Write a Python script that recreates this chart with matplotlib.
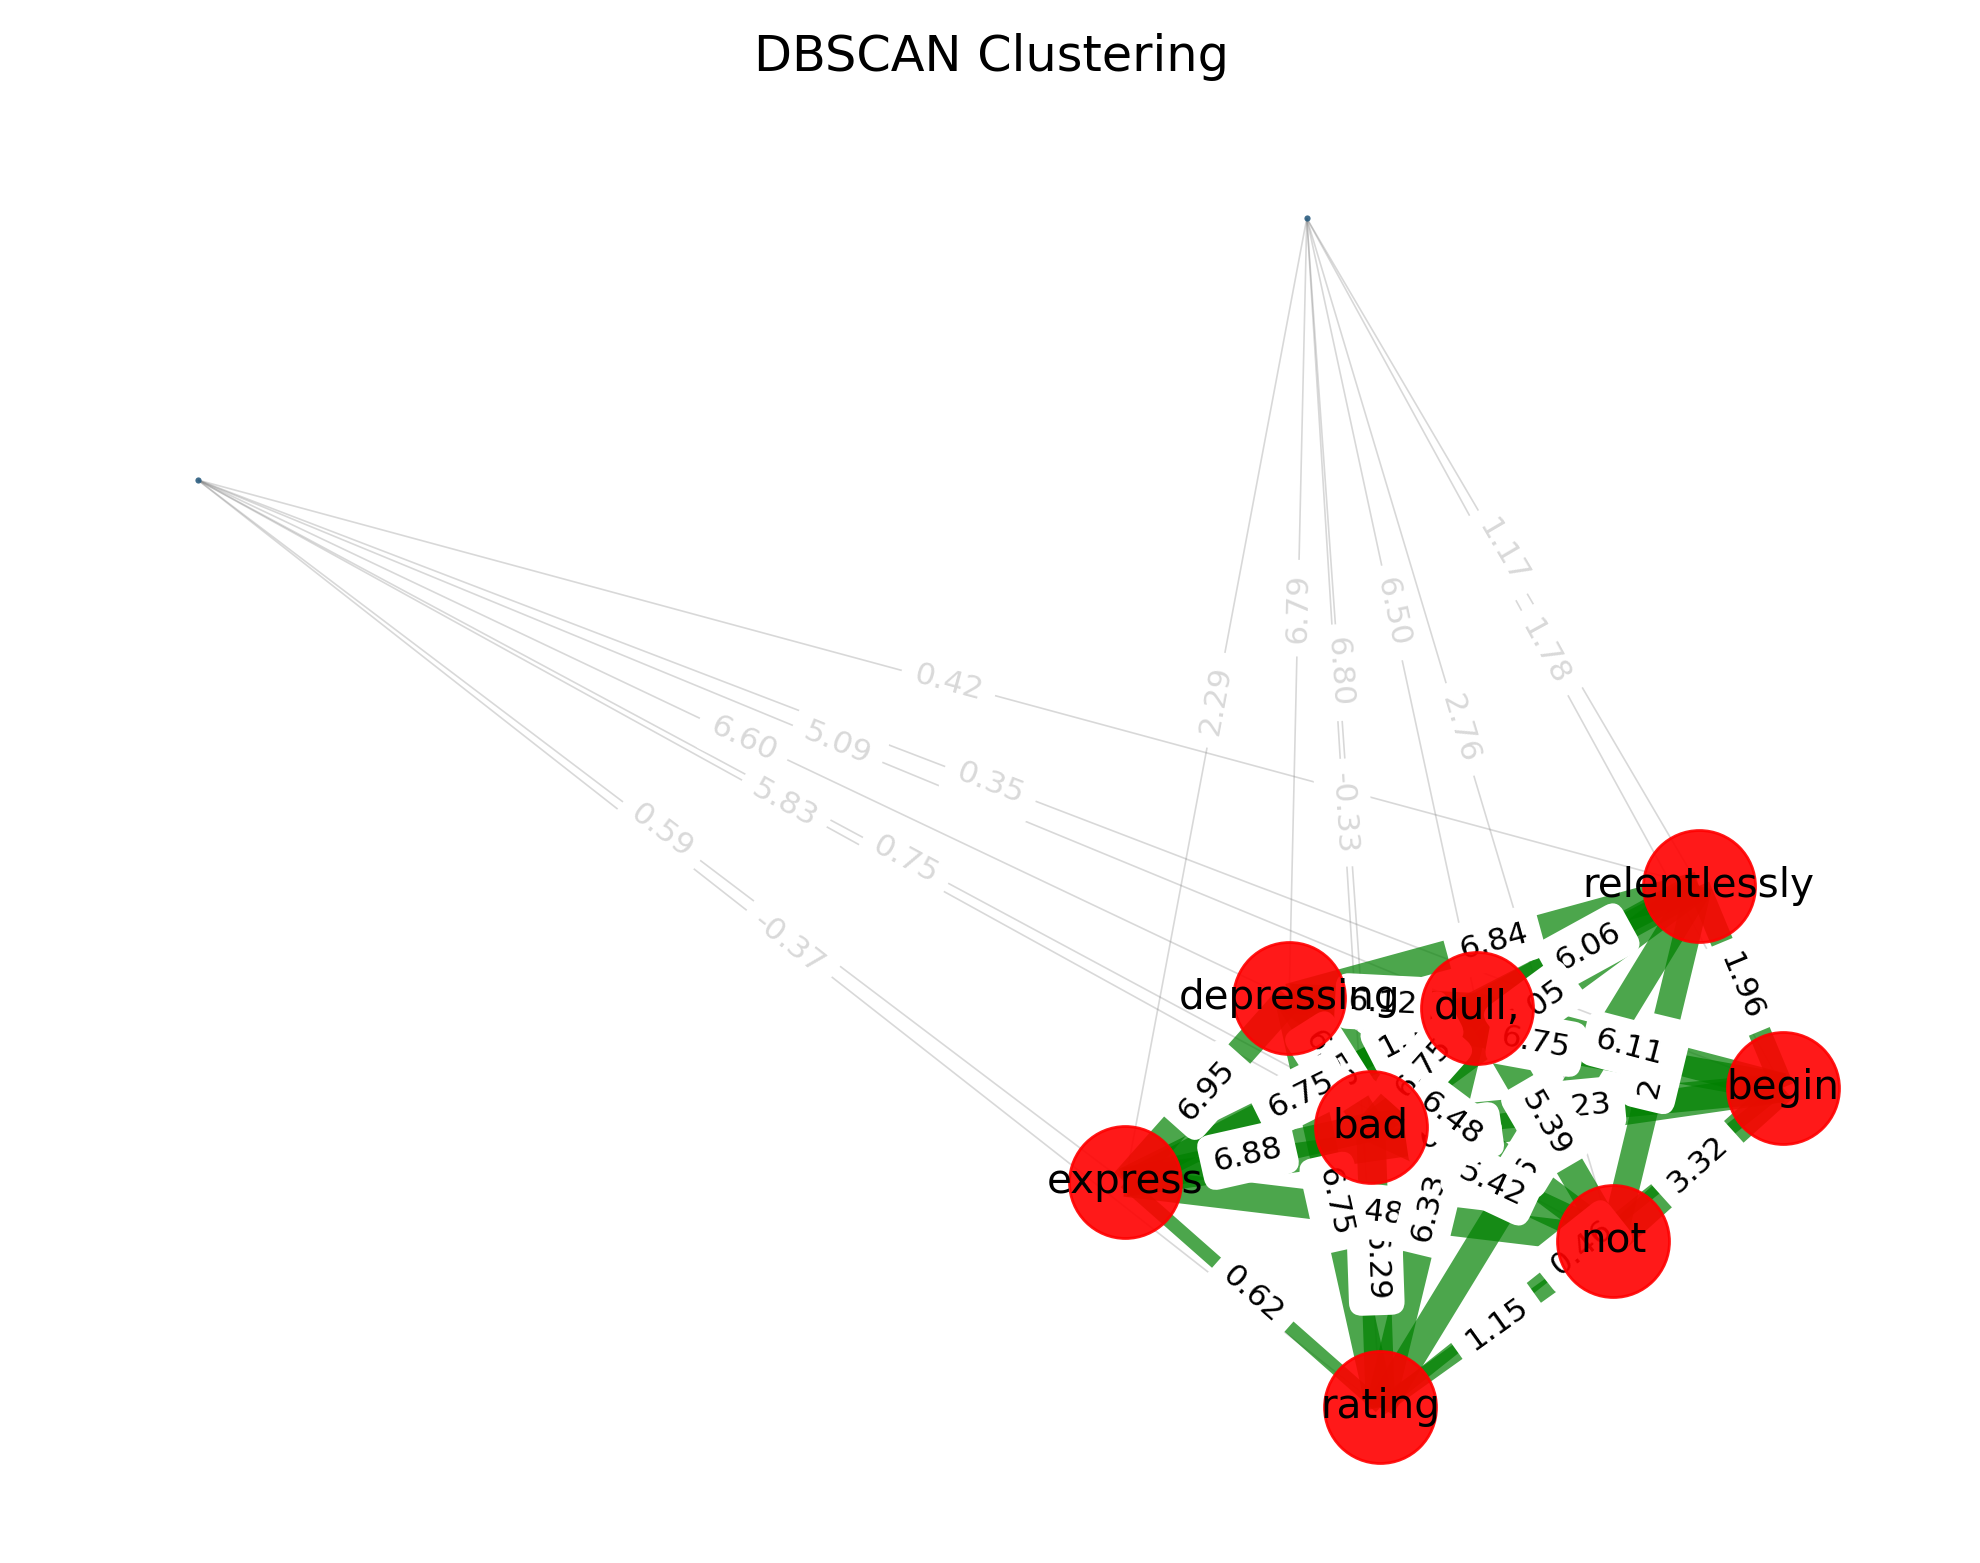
import numpy as np
import matplotlib.pyplot as plt
from matplotlib.collections import LineCollection

# cluster words (layout coordinates)
nodes = ['relentlessly', 'depressing', 'dull,', 'begin', 'bad', 'express', 'not', 'rating']
node_x = [0.886, 0.374, 0.609, 0.991, 0.476, 0.169, 0.779, 0.488]
node_y = [-0.108, -0.248, -0.260, -0.360, -0.409, -0.478, -0.551, -0.759]

# noise points
noise = ['noise_a', 'noise_b']
noise_x = [0.396, -0.990]
noise_y = [0.726, 0.399]

# edges between clustered words (drawing order = label stacking order)
cluster_edges = [
    ('relentlessly', 'depressing', 6.84), ('relentlessly', 'dull,', 6.06),
    ('relentlessly', 'begin', 1.96), ('relentlessly', 'express', 1.71),
    ('relentlessly', 'bad', 6.05), ('depressing', 'dull,', 6.12),
    ('depressing', 'bad', 6.52), ('dull,', 'express', 6.75),
    ('dull,', 'bad', 6.75), ('depressing', 'express', 6.95),
    ('bad', 'express', 6.88), ('begin', 'express', 6.41),
    ('depressing', 'begin', 6.75), ('begin', 'bad', 6.23),
    ('relentlessly', 'rating', 6.62), ('bad', 'rating', 6.29),
    ('express', 'not', 6.48), ('depressing', 'rating', 6.75),
    ('dull,', 'rating', 6.33), ('relentlessly', 'not', 2.62),
    ('dull,', 'begin', 6.11), ('bad', 'not', 5.42),
    ('depressing', 'not', 6.48), ('dull,', 'not', 5.39),
    ('begin', 'not', 3.32), ('begin', 'rating', 0.46),
    ('express', 'rating', 0.62), ('not', 'rating', 1.15),
]

# edges from noise points
noise_edges = [
    ('noise_a', 'express', 2.29), ('noise_a', 'depressing', 6.79),
    ('noise_a', 'bad', 6.80), ('noise_a', 'rating', -0.33),
    ('noise_a', 'dull,', 6.50), ('noise_a', 'not', 2.76),
    ('noise_a', 'relentlessly', 1.17), ('noise_a', 'begin', 1.78),
    ('noise_b', 'relentlessly', 0.42), ('noise_b', 'dull,', 5.09),
    ('noise_b', 'begin', 0.35), ('noise_b', 'depressing', 6.60),
    ('noise_b', 'bad', 5.83), ('noise_b', 'not', 0.75),
    ('noise_b', 'express', 0.59), ('noise_b', 'rating', -0.37),
]

pos = {n: (x, y) for n, x, y in zip(nodes, node_x, node_y)}
pos.update({n: (x, y) for n, x, y in zip(noise, noise_x, noise_y)})

fig = plt.figure(figsize=(9.9, 7.815), dpi=200)
ax = fig.add_axes([0.0596, 0.0147, 0.8828, 0.9290])
ax.set_xlim(-1.09, 1.095)
ax.set_ylim(-0.925, 0.88875)
ax.axis('off')
ax.set_title('DBSCAN Clustering', fontsize=17.8)


def label_angle(p1, p2):
    a = ax.transData.transform(p1)
    b = ax.transData.transform(p2)
    ang = np.degrees(np.arctan2(b[1] - a[1], b[0] - a[0]))
    if ang > 90:
        ang -= 180
    if ang < -90:
        ang += 180
    return ang


def draw_edges(edges, color, widths, text_color):
    segs = [[pos[u], pos[v]] for u, v, w in edges]
    lc = LineCollection(segs, colors=color, linewidths=widths, zorder=1,
                        capstyle='butt')
    ax.add_collection(lc)
    for u, v, w in edges:
        p1, p2 = pos[u], pos[v]
        mx, my = (p1[0] + p2[0]) / 2, (p1[1] + p2[1]) / 2
        ax.text(mx, my, f'{w:.2f}', fontsize=11.3, color=text_color,
                ha='center', va='center', rotation=label_angle(p1, p2),
                rotation_mode='anchor', zorder=1,
                bbox=dict(boxstyle='round,pad=0.38', ec='white', fc='white'))


# noise edges: thin grey
draw_edges(noise_edges, (0.5, 0.5, 0.5, 0.3), 0.6, (0.5, 0.5, 0.5, 0.3))

# cluster edges: width grows with weight
green_w = [min(10.5, 3.4 + 2.4 * w) for u, v, w in cluster_edges]
draw_edges(cluster_edges, (0.0, 0.5, 0.0, 0.7), green_w, 'black')

# nodes
ax.scatter(node_x, node_y, s=1625, c='red', alpha=0.9, linewidths=1,
           edgecolors='red', zorder=2)
ax.scatter(noise_x, noise_y, s=5, c='#2b5d80', alpha=0.9, linewidths=0,
           zorder=2)
for n, x, y in zip(nodes, node_x, node_y):
    ax.text(x, y, n, fontsize=14.6, ha='center', va='center', zorder=3)

fig.savefig('out.png', dpi=200)
